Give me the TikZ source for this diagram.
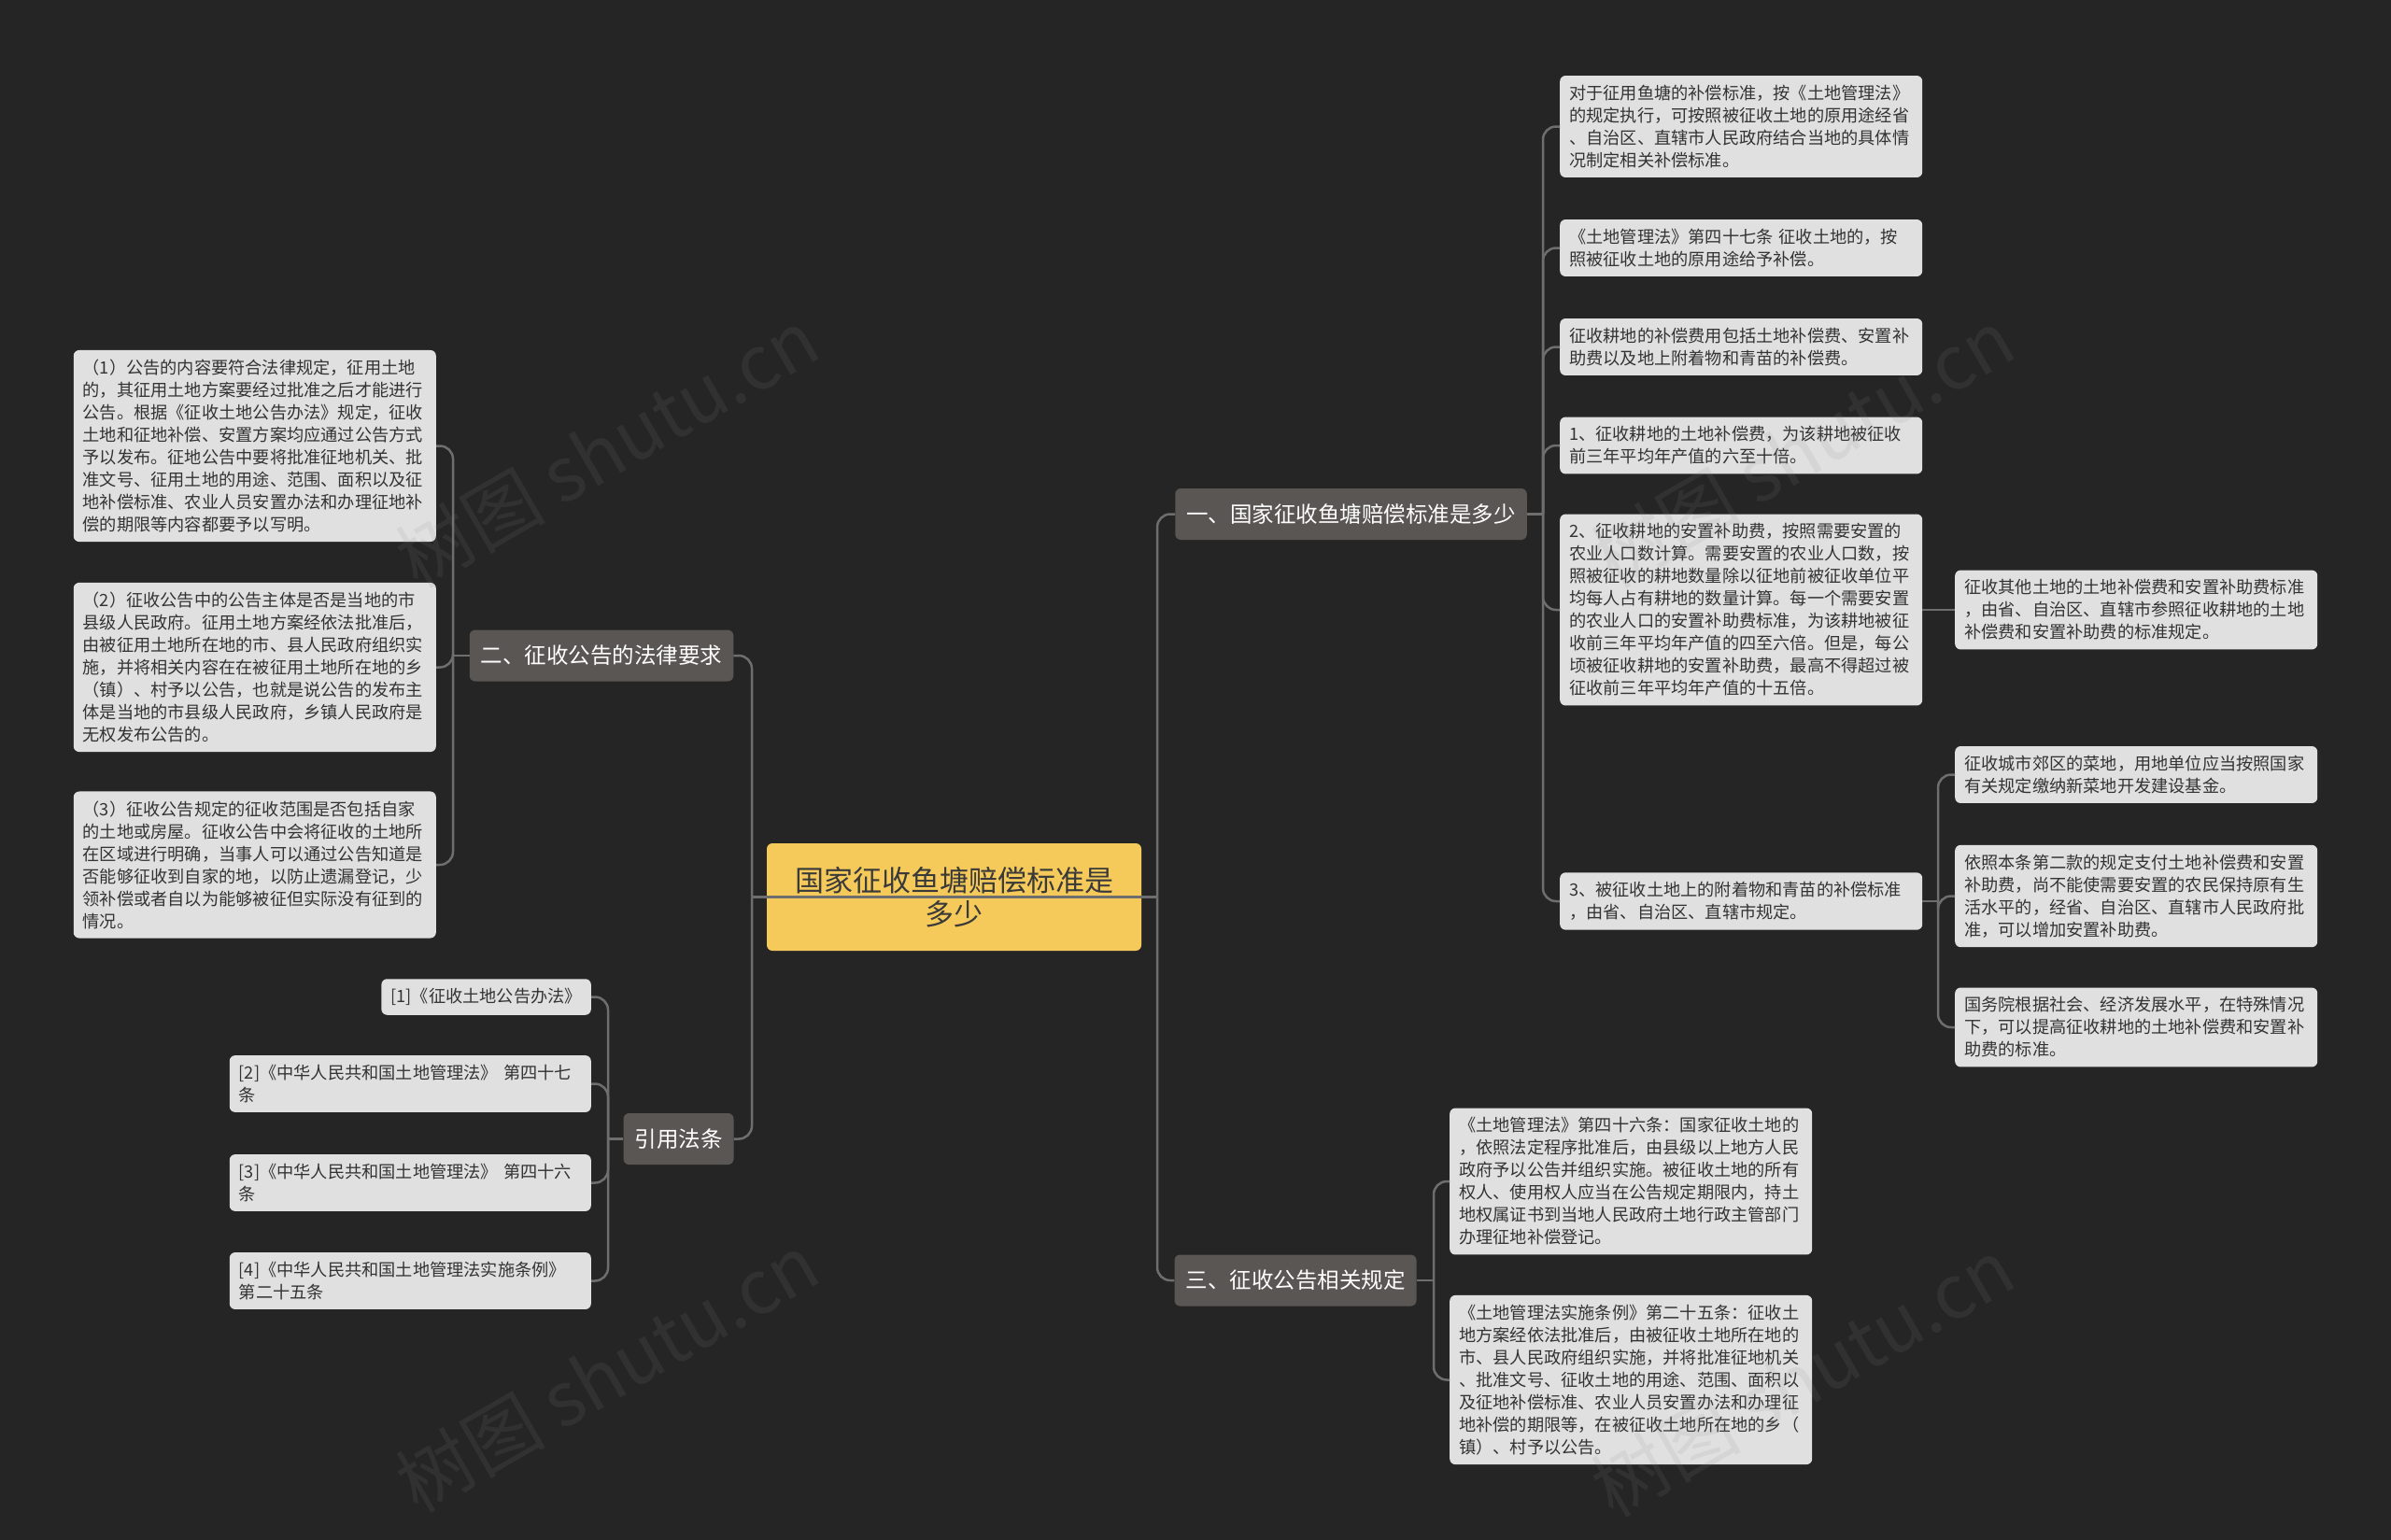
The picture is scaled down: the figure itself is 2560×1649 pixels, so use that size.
\documentclass[tikz,border=0pt]{standalone}
\usepackage{fontspec}
\setmainfont{Noto Sans CJK SC}
\definecolor{bgc}{HTML}{252525}
\definecolor{connc}{HTML}{6E6E6E}
\definecolor{leaffill}{HTML}{E0E0E0}
\definecolor{leaftext}{HTML}{333333}
\definecolor{brfill}{HTML}{5A5653}
\definecolor{rootfill}{HTML}{F5CA5A}
\definecolor{roottext}{HTML}{3A3A3A}
\definecolor{wmc}{HTML}{8A8A8A}
\begin{document}
\begin{tikzpicture}[x=1bp,y=-1bp,
  leafbase/.style={fill=leaffill, rounded corners=6bp, text=leaftext,
    font=\fontsize{18.2bp}{24bp}\selectfont, align=left, inner xsep=10bp, inner ysep=10bp},
  leaf/.style={leafbase, text width=368bp},
  branch/.style={fill=brfill, rounded corners=6bp, text=white,
    font=\fontsize{23.5bp}{28bp}\selectfont, inner xsep=12bp, minimum height=55bp},
  rootn/.style={fill=rootfill, rounded corners=6bp, text=roottext,
    font=\fontsize{31bp}{36bp}\selectfont, align=center, minimum width=401bp, minimum height=115bp},
  conn/.style={draw=connc, line width=2.5bp, rounded corners=14bp},
  wm/.style={text=wmc, opacity=0.12, font=\fontsize{80bp}{90bp}\selectfont}
]
\useasboundingbox (0,0) rectangle (2560,1649);
\fill[bgc] (0,0) rectangle (2560,1649);

% root
\node[rootn] (root) at (1021.5,960.5) {国家征收鱼塘赔偿标准是\\多少};

% branches
\node[branch] (b1) at (1446.5,550.5) {一、国家征收鱼塘赔偿标准是多少};
\node[branch] (b2) at (644,702) {二、征收公告的法律要求};
\node[branch] (b3) at (1387,1371) {三、征收公告相关规定};
\node[branch] (b4) at (726.5,1219.5) {引用法条};

% branch 1 leaves
\node[leaf, anchor=west] (l1a) at (1670,135.5) {对于征用鱼塘的补偿标准，按《土地管理法》\\的规定执行，可按照被征收土地的原用途经省\\、自治区、直辖市人民政府结合当地的具体情\\况制定相关补偿标准。};
\node[leaf, anchor=west] (l1b) at (1670,265.5) {《土地管理法》第四十七条 征收土地的，按\\照被征收土地的原用途给予补偿。};
\node[leaf, anchor=west] (l1c) at (1670,371.5) {征收耕地的补偿费用包括土地补偿费、安置补\\助费以及地上附着物和青苗的补偿费。};
\node[leaf, anchor=west] (l1d) at (1670,477) {1、征收耕地的土地补偿费，为该耕地被征收\\前三年平均年产值的六至十倍。};
\node[leaf, anchor=west] (l1e) at (1670,653) {2、征收耕地的安置补助费，按照需要安置的\\农业人口数计算。需要安置的农业人口数，按\\照被征收的耕地数量除以征地前被征收单位平\\均每人占有耕地的数量计算。每一个需要安置\\的农业人口的安置补助费标准，为该耕地被征\\收前三年平均年产值的四至六倍。但是，每公\\顷被征收耕地的安置补助费，最高不得超过被\\征收前三年平均年产值的十五倍。};
\node[leaf, anchor=west] (l1f) at (1670,965) {3、被征收土地上的附着物和青苗的补偿标准\\，由省、自治区、直辖市规定。};

\node[leaf, anchor=west] (e1) at (2093,653) {征收其他土地的土地补偿费和安置补助费标准\\，由省、自治区、直辖市参照征收耕地的土地\\补偿费和安置补助费的标准规定。};
\node[leaf, anchor=west] (f1) at (2093,829.5) {征收城市郊区的菜地，用地单位应当按照国家\\有关规定缴纳新菜地开发建设基金。};
\node[leaf, anchor=west] (f2) at (2093,959.5) {依照本条第二款的规定支付土地补偿费和安置\\补助费，尚不能使需要安置的农民保持原有生\\活水平的，经省、自治区、直辖市人民政府批\\准，可以增加安置补助费。};
\node[leaf, anchor=west] (f3) at (2093,1100) {国务院根据社会、经济发展水平，在特殊情况\\下，可以提高征收耕地的土地补偿费和安置补\\助费的标准。};

% branch 2 leaves
\node[leaf, anchor=east] (l2a) at (467,477.5) {（1）公告的内容要符合法律规定，征用土地\\的，其征用土地方案要经过批准之后才能进行\\公告。根据《征收土地公告办法》规定，征收\\土地和征地补偿、安置方案均应通过公告方式\\予以发布。征地公告中要将批准征地机关、批\\准文号、征用土地的用途、范围、面积以及征\\地补偿标准、农业人员安置办法和办理征地补\\偿的期限等内容都要予以写明。};
\node[leaf, anchor=east] (l2b) at (467,714.5) {（2）征收公告中的公告主体是否是当地的市\\县级人民政府。征用土地方案经依法批准后，\\由被征用土地所在地的市、县人民政府组织实\\施，并将相关内容在在被征用土地所在地的乡\\（镇）、村予以公告，也就是说公告的发布主\\体是当地的市县级人民政府，乡镇人民政府是\\无权发布公告的。};
\node[leaf, anchor=east] (l2c) at (467,926) {（3）征收公告规定的征收范围是否包括自家\\的土地或房屋。征收公告中会将征收的土地所\\在区域进行明确，当事人可以通过公告知道是\\否能够征收到自家的地，以防止遗漏登记，少\\领补偿或者自以为能够被征但实际没有征到的\\情况。};

% branch 3 leaves
\node[leaf, anchor=west] (l3a) at (1552,1265) {《土地管理法》第四十六条：国家征收土地的\\，依照法定程序批准后，由县级以上地方人民\\政府予以公告并组织实施。被征收土地的所有\\权人、使用权人应当在公告规定期限内，持土\\地权属证书到当地人民政府土地行政主管部门\\办理征地补偿登记。};
\node[leaf, anchor=west] (l3b) at (1552,1477.5) {《土地管理法实施条例》第二十五条：征收土\\地方案经依法批准后，由被征收土地所在地的\\市、县人民政府组织实施，并将批准征地机关\\、批准文号、征收土地的用途、范围、面积以\\及征地补偿标准、农业人员安置办法和办理征\\地补偿的期限等，在被征收土地所在地的乡（\\镇）、村予以公告。};

% branch 4 leaves
\node[leafbase, anchor=east] (l4a) at (633,1067.5) {[1]《征收土地公告办法》};
\node[leaf, anchor=east, text width=367bp] (l4b) at (633,1160.5) {[2]《中华人民共和国土地管理法》 第四十七\\条};
\node[leaf, anchor=east, text width=367bp] (l4c) at (633,1266.5) {[3]《中华人民共和国土地管理法》 第四十六\\条};
\node[leaf, anchor=east, text width=367bp] (l4d) at (633,1371.5) {[4]《中华人民共和国土地管理法实施条例》\\第二十五条};

% trunk coordinates
\coordinate (tL) at (805,960.5);
\coordinate (tR) at (1239,960.5);
\coordinate (t1) at (1652,550.5);
\coordinate (t2) at (485,702);
\coordinate (t3) at (1535,1371);
\coordinate (t4) at (651,1219.5);
\coordinate (tf) at (2075,965);

% root connectors
\draw[conn] (b2.east) -| (tL);
\draw[conn] (b4.east) -| (tL);
\draw[conn] (b1.west) -| (tR);
\draw[conn] (b3.west) -| (tR);
\draw[conn] (tL) -- (tR);

% branch 1
\draw[conn] (b1.east) -- (t1);
\foreach \n in {l1a,l1b,l1c,l1d,l1e,l1f} \draw[conn] (\n.west) -| (t1);
\draw[conn] (l1e.east) -- (e1.west);
\draw[conn] (l1f.east) -- (tf);
\foreach \n in {f1,f2,f3} \draw[conn] (\n.west) -| (tf);

% branch 2
\draw[conn] (b2.west) -- (t2);
\foreach \n in {l2a,l2b,l2c} \draw[conn] (\n.east) -| (t2);

% branch 3
\draw[conn] (b3.east) -- (t3);
\foreach \n in {l3a,l3b} \draw[conn] (\n.west) -| (t3);

% branch 4
\draw[conn] (b4.west) -- (t4);
\foreach \n in {l4a,l4b,l4c,l4d} \draw[conn] (\n.east) -| (t4);

% watermarks
\node[wm, rotate=30] (w1) at (650,480) {树图 shutu.cn};
\node[wm, rotate=30] (w2) at (1930,480) {树图 shutu.cn};
\node[wm, rotate=30] (w3) at (650,1470) {树图 shutu.cn};
\node[wm, rotate=30] (w4) at (1930,1475) {树图 shutu.cn};
\end{tikzpicture}
\end{document}
